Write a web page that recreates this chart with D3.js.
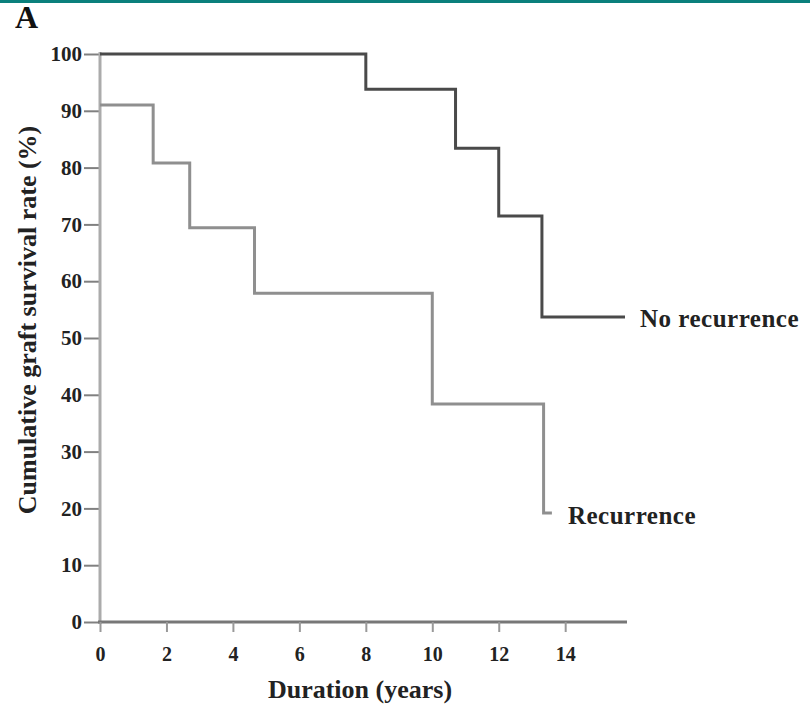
<!DOCTYPE html>
<html>
<head>
<meta charset="UTF-8">
<title>Graft survival</title>
<script src="https://cdn.jsdelivr.net/npm/d3@7"></script>
<style>
    body{ margin:0; background:#fff; }
    svg{ display:block; font-family:"Liberation Serif","Times New Roman",serif; font-weight:bold; }
</style>
</head>
<body>
<div id="root"></div>
<script>
    // data
    let noRecTimes = [0, 8, 10.7, 12, 13.3, 15.8]
    let noRecSurv = [100, 93.8, 83.4, 71.5, 53.7, 53.7]
    let recTimes = [0, 1.6, 2.7, 4.65, 10, 13.35, 13.6]
    let recSurv = [91, 80.8, 69.4, 57.9, 38.4, 19.2, 19.2]
    let xTicks = [0, 2, 4, 6, 8, 10, 12, 14]
    let yTicks = [0, 10, 20, 30, 40, 50, 60, 70, 80, 90, 100]
    let seriesNames = ["No recurrence", "Recurrence"]

    let width = 810, height = 705
    let svg = d3.select("#root").append("svg").attr("width", width).attr("height", height)

    // teal strip at the top
    svg.append("rect").attr("x", 0).attr("y", 0).attr("width", width).attr("height", 3).attr("fill", "#0b807c")

    svg.append("text").attr("x", 15).attr("y", 28).style("font-size", "32px").attr("fill", "#111").text("A")

    let x = d3.scaleLinear().domain([0, 15.8]).range([100, 625])
    let y = d3.scaleLinear().domain([0, 100]).range([622, 54])

    // y axis
    let yAxis = d3.axisLeft(y).tickValues(yTicks).tickSize(16).tickPadding(2).tickFormat(d3.format("d"))
    let gy = svg.append("g").attr("transform", "translate(" + x(0) + ",0)").call(yAxis)
    gy.attr("font-family", null).attr("font-size", null)
    gy.select(".domain").remove()
    gy.selectAll(".tick line").attr("stroke", "#808080").attr("stroke-width", 2)
    gy.selectAll(".tick text").style("font-size", "21px").attr("fill", "#222")
    svg.append("line").attr("x1", x(0)).attr("x2", x(0)).attr("y1", y(100) - 2).attr("y2", y(0) + 2)
        .attr("stroke", "#ababab").attr("stroke-width", 3)

    // x axis
    let xAxis = d3.axisBottom(x).tickValues(xTicks).tickSize(10).tickPadding(15).tickSizeOuter(0)
    let gx = svg.append("g").attr("transform", "translate(0," + y(0) + ")").call(xAxis)
    gx.attr("font-family", null).attr("font-size", null)
    gx.select(".domain").attr("stroke", "#777").attr("stroke-width", 3).attr("d", "M" + (x(0) - 2) + ",0H" + 627)
    gx.selectAll(".tick line").attr("stroke", "#999").attr("stroke-width", 2)
    gx.selectAll(".tick text").style("font-size", "20px").attr("fill", "#222")

    // survival curves
    let line = d3.line().x(d => x(d[0])).y(d => y(d[1])).curve(d3.curveStepAfter)
    let noRec = noRecTimes.map((t, i) => [t, noRecSurv[i]])
    let rec = recTimes.map((t, i) => [t, recSurv[i]])

    svg.append("path").datum(rec).attr("d", line).attr("fill", "none")
        .attr("stroke", "#8f8f8f").attr("stroke-width", 3)
    svg.append("path").datum(noRec).attr("d", line).attr("fill", "none")
        .attr("stroke", "#4a4a4a").attr("stroke-width", 3)

    // labels at the curve ends
    svg.append("text").attr("x", x(noRecTimes[noRecTimes.length - 1]) + 15).attr("y", y(noRecSurv[noRecSurv.length - 1]) + 10)
        .style("font-size", "25px").style("letter-spacing", "0.5px").attr("fill", "#222").text(seriesNames[0])
    svg.append("text").attr("x", x(recTimes[recTimes.length - 1]) + 16).attr("y", y(recSurv[recSurv.length - 1]) + 11)
        .style("font-size", "25px").style("letter-spacing", "0.5px").attr("fill", "#222").text(seriesNames[1])

    // axis titles
    svg.append("text").attr("x", 360).attr("y", 698).attr("text-anchor", "middle")
        .style("font-size", "26px").attr("fill", "#222").text("Duration (years)")
    svg.append("text").attr("transform", "translate(36,320) rotate(-90)").attr("text-anchor", "middle")
        .style("font-size", "26px").attr("fill", "#222").text("Cumulative graft survival rate (%)")
</script>
</body>
</html>
